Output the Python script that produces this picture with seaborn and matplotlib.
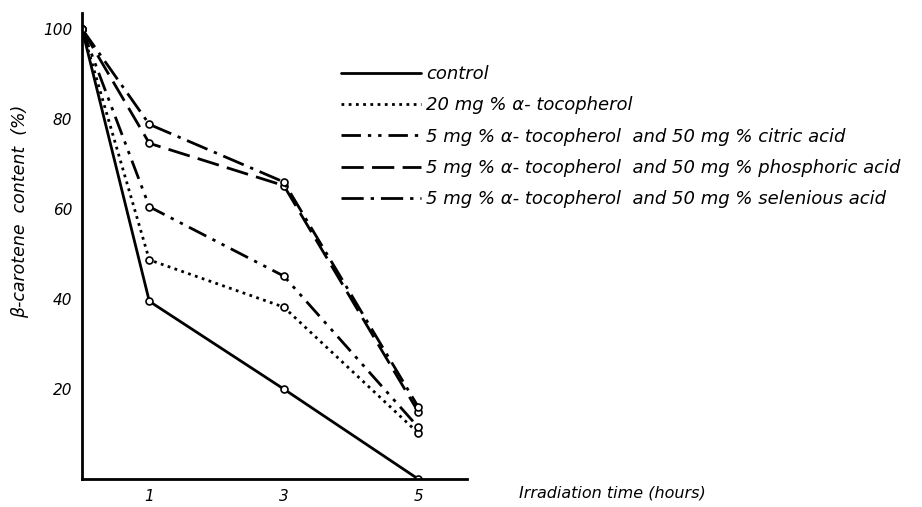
import matplotlib
matplotlib.use("Agg")
import matplotlib.pyplot as plt
import seaborn as sns
import pandas as pd

sns.set_style("white")
plt.rcParams["font.family"] = ["DejaVu Sans"]
plt.rcParams["font.style"] = "italic"
plt.rcParams["text.color"] = "black"
plt.rcParams["axes.labelcolor"] = "black"
plt.rcParams["xtick.color"] = "black"
plt.rcParams["ytick.color"] = "black"

# irradiation time (hours) and beta-carotene content (%)
hours = [0, 1, 3, 5]
control = [100, 39.5, 20, 0]
toco_20 = [100, 48.7, 38.2, 10.2]
toco_citric = [100, 60.5, 45.1, 11.5]
toco_phosphoric = [100, 74.6, 65.2, 14.9]
toco_selenious = [100, 78.8, 66.0, 16.0]

labels = [
    "control",
    "20 mg % α- tocopherol",
    "5 mg % α- tocopherol  and 50 mg % citric acid",
    "5 mg % α- tocopherol  and 50 mg % phosphoric acid",
    "5 mg % α- tocopherol  and 50 mg % selenious acid",
]
series = [control, toco_20, toco_citric, toco_phosphoric, toco_selenious]
styles = [
    "-",
    (0, (1, 1.6)),
    (0, (7, 2.5, 1.2, 2.5, 1.2, 2.5)),
    (0, (8, 3)),
    (0, (8, 2.5, 1.2, 2.5)),
]

fig = plt.figure(figsize=(9.22, 5.07), dpi=100)
ax = fig.add_axes([0.089, 0.055, 0.418, 0.919])

for lab, vals, ls in zip(labels, series, styles):
    df = pd.DataFrame({"time": hours, "content": vals})
    sns.lineplot(data=df, x="time", y="content", ax=ax, color="black",
                 linestyle=ls, linewidth=2, marker="o", markersize=5,
                 markerfacecolor="white", markeredgecolor="black",
                 markeredgewidth=1.2, label=lab, legend=False)

ax.set_xlim(0, 5.73)
ax.set_ylim(0, 103.5)
ax.set_xticks([1, 3, 5])
ax.set_yticks([20, 40, 60, 80, 100])
ax.tick_params(axis="both", direction="out", length=4, width=1.2,
               labelsize=11, color="black", pad=3)
for s in ["top", "right"]:
    ax.spines[s].set_visible(False)
for s in ["left", "bottom"]:
    ax.spines[s].set_linewidth(2)
    ax.spines[s].set_color("black")

ax.set_ylabel("β-carotene  content  (%)", fontsize=12.5, va="center")
ax.yaxis.set_label_coords(-0.162, 0.575)
ax.set_xlabel("Irradiation time (hours)", fontsize=11.5, ha="left", va="center")
ax.xaxis.set_label_coords(1.135, -0.03)

handles, labs = ax.get_legend_handles_labels()
leg = fig.legend(handles, labs, loc="upper left", bbox_to_anchor=(0.37, 0.872),
                 frameon=False, fontsize=13, handlelength=4.4, handletextpad=0.3,
                 labelspacing=0.74, borderpad=0, borderaxespad=0)
for h in leg.legend_handles:
    h.set_marker("")

fig.savefig("out.png", dpi=100)
